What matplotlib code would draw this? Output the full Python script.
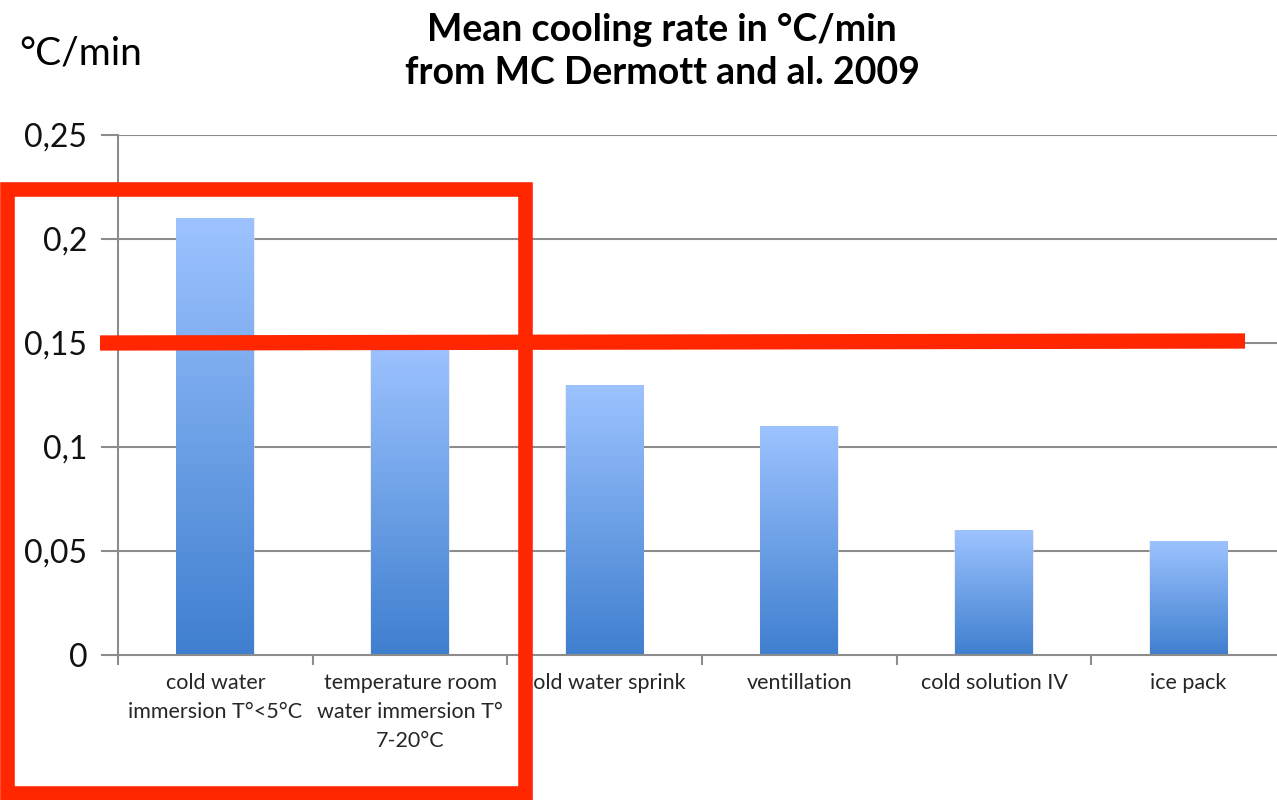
import numpy as np
import matplotlib
matplotlib.use("Agg")
import matplotlib.pyplot as plt
from matplotlib.patches import Rectangle
from matplotlib.colors import LinearSegmentedColormap
from matplotlib.lines import Line2D

# Data
categories = [
    "cold water\nimmersion T°<5°C",
    "temperature room\nwater immersion T°\n7-20°C",
    "cold water sprink",
    "ventillation",
    "cold solution IV",
    "ice pack",
]
cooling_rate = [0.21, 0.15, 0.13, 0.11, 0.06, 0.055]
y_ticks = [0, 0.05, 0.1, 0.15, 0.2, 0.25]
y_tick_labels = ["0", "0,05", "0,1", "0,15", "0,2", "0,25"]
title_lines = ["Mean cooling rate in °C/min", "from MC Dermott and al. 2009"]

plt.rcParams["font.family"] = ["Lato", "DejaVu Sans"]

W, H = 1277, 800
fig = plt.figure(figsize=(W / 100, H / 100), dpi=100)
ax = fig.add_axes([118 / W, 145 / H, 1168 / W, 520 / H])

grid_color = "#8c8c8c"
x = np.arange(len(categories))
bar_w = 0.4

ax.set_xlim(-0.5, len(categories) - 0.5)
ax.set_ylim(0, 0.25)

# Horizontal gridlines
for t in y_ticks[1:]:
    ax.axhline(t, color=grid_color, lw=1.5, zorder=0)

# Gradient-filled bars
cmap = LinearSegmentedColormap.from_list("blu", ["#3f7fcf", "#9dc3ff"])
grad = np.linspace(0, 1, 256).reshape(-1, 1)
bars = ax.bar(x, cooling_rate, width=bar_w, color="none", edgecolor="none", zorder=2)
for b in bars:
    x0, y0 = b.get_x(), b.get_y()
    w, h = b.get_width(), b.get_height()
    # soft shadow on the sides
    ax.add_patch(Rectangle((x0 - 0.004, y0), w + 0.008, h,
                           facecolor="#dcdcdc", edgecolor="none", alpha=0.5, zorder=1.5))
    im = ax.imshow(grad, cmap=cmap, origin="lower", aspect="auto",
                   extent=(x0, x0 + w, y0, y0 + h), zorder=2)
    im.set_clip_path(b)

# Axes styling
for s in ["top", "right"]:
    ax.spines[s].set_visible(False)
for s in ["left", "bottom"]:
    ax.spines[s].set_color(grid_color)
    ax.spines[s].set_linewidth(1.5)

ax.set_yticks(y_ticks)
ax.set_yticklabels(y_tick_labels, fontsize=23, color="#111111")
ax.tick_params(axis="y", length=12, width=1.5, color=grid_color, pad=10)

ax.set_xticks(x)
ax.set_xticklabels(categories, fontsize=15.5, color="#262626", linespacing=1.55)
ax.tick_params(axis="x", which="major", length=0, pad=13)
ax.set_xticks(np.arange(len(categories) + 1) - 0.5, minor=True)
ax.tick_params(axis="x", which="minor", length=7, width=1.5, color=grid_color)

# Titles
fig.text(662 / W, 1 - 41 / H, title_lines[0], ha="center", va="baseline",
         fontsize=27, fontweight="bold")
fig.text(662 / W, 1 - 84 / H, title_lines[1], ha="center", va="baseline",
         fontsize=27, fontweight="bold")
fig.text(19 / W, 1 - 65 / H, "°C/min", ha="left", va="baseline", fontsize=28)

# Red highlight box and reference line
red = "#ff2600"
fig.add_artist(Rectangle((7 / W, 7 / H), (525 - 7) / W, (611 - 7) / H,
                         transform=fig.transFigure, fill=False, edgecolor=red,
                         linewidth=10.5, zorder=10))
fig.add_artist(Line2D([100 / W, 1245 / W], [1 - 343 / H, 1 - 341 / H],
                      transform=fig.transFigure, color=red, linewidth=11,
                      solid_capstyle="butt", zorder=10))

fig.savefig("out.png", dpi=100)
